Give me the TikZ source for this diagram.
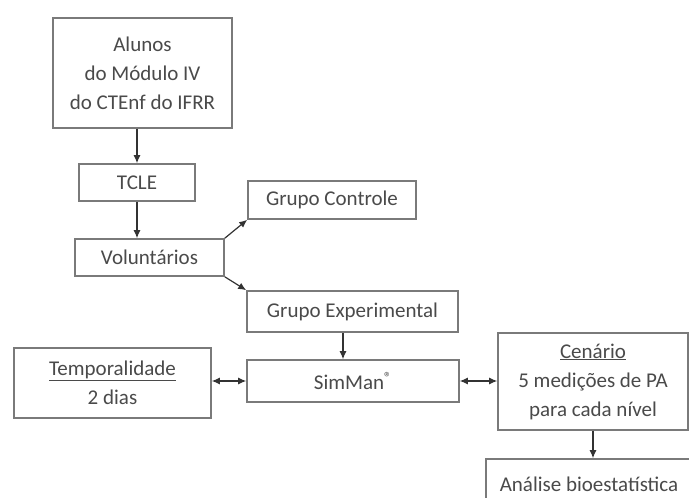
\documentclass[tikz,border=0pt]{standalone}
\usepackage{fontspec}
\setmainfont{Carlito}
\usetikzlibrary{arrows.meta}
\definecolor{boxgray}{HTML}{7A7A7A}
\definecolor{txtgray}{HTML}{4A4A4A}
\begin{document}
\begin{tikzpicture}[x=1pt,y=-1pt,
    box/.style={rectangle,draw=boxgray,line width=1.6pt,text=txtgray,align=center,inner sep=0pt,
        font=\fontsize{21}{29}\selectfont},
    link/.style={-{Latex[length=8pt,width=7pt]},line width=1.2pt,draw=black!80},
    both/.style={{Latex[length=8pt,width=7pt]}-{Latex[length=8pt,width=7pt]},line width=1.2pt,draw=black!80}]
    \useasboundingbox (0,0) rectangle (689,498);
    \fill[white] (0,0) rectangle (689,498);
    \begin{scope}
    \clip (0,0) rectangle (689,498);
    \node[box,minimum width=179pt,minimum height=110pt] at (142.5,73) (alunos) {Alunos\\do Módulo IV\\do CTEnf do IFRR};
    \node[box,minimum width=116pt,minimum height=37pt] at (137,182.5) (tcle) {TCLE};
    \node[box,minimum width=149pt,minimum height=37pt] at (149.5,257.5) (vol) {Voluntários};
    \node[box,minimum width=168pt,minimum height=38pt] at (332,200) (gc) {Grupo Controle};
    \node[box,minimum width=211pt,minimum height=41pt] at (352.5,311.5) (ge) {Grupo Experimental};
    \node[box,minimum width=212pt,minimum height=42pt] at (353,381) (sim) {SimMan\textsuperscript{®}};
    \node[box,minimum width=197pt,minimum height=70pt] at (112.5,383) (temp) {\underline{Temporalidade}\\2 dias};
    \node[box,minimum width=190pt,minimum height=97pt] at (593,381.5) (cen) {\underline{Cenário}\\5 medições de PA\\para cada nível};
    \node[box,minimum width=206pt,minimum height=50pt] at (589,484) (ana) {Análise bioestatística};
    \end{scope}

    \draw[link] (alunos.south -| tcle.north) -- (tcle.north);
    \draw[link] (tcle.south) -- (tcle.south |- vol.north);
    \draw[link] (vol.north east) -- (gc.south west);
    \draw[link] (vol.south east) -- (ge.north west);
    \draw[link] ([xshift=-9.5pt]ge.south) -- ([xshift=-9.5pt]ge.south |- sim.north);
    \draw[link] (cen.south) -- (cen.south |- ana.north);
    \draw[both] (temp.east |- sim.west) -- (sim.west);
    \draw[both] (sim.east) -- (cen.west |- sim.east);
\end{tikzpicture}
\end{document}
